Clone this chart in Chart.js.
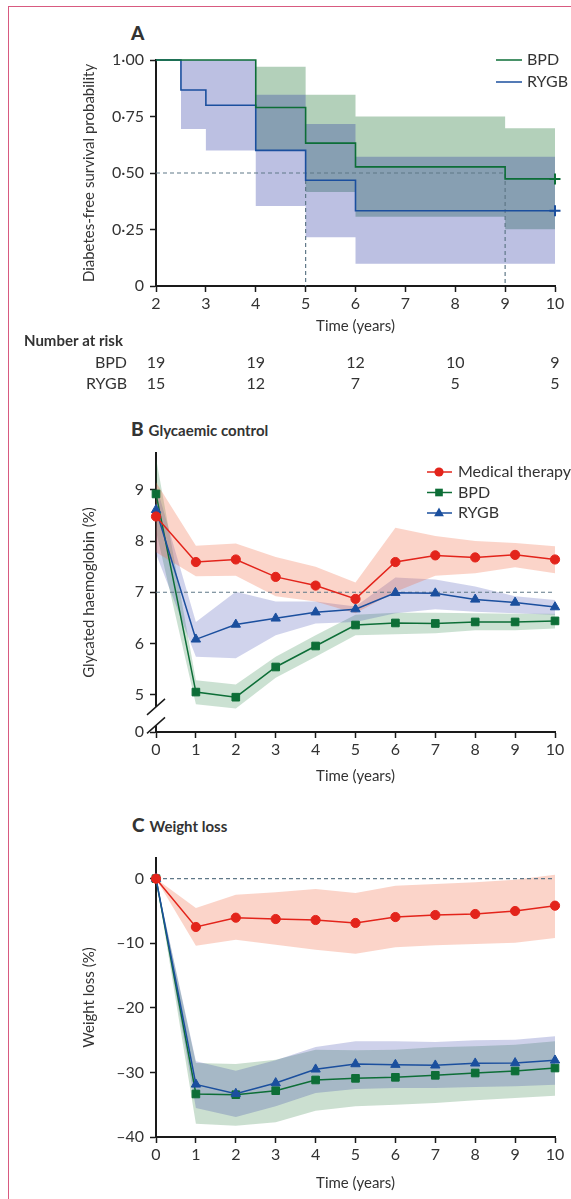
<!DOCTYPE html>
<html>
<head>
<meta charset="utf-8">
<script src="https://cdn.jsdelivr.net/npm/chart.js@4.4.0/dist/chart.umd.min.js"></script>
<style>
  html, body { margin: 0; padding: 0; background: #fff; }
  body { position: relative; width: 571px; height: 1199px; overflow: hidden; font-family: Lato, sans-serif; color: #333; }
  .frame { position: absolute; left: 8px; top: 6px; width: 600px; height: 1300px; border-left: 1.5px solid #d85a80; border-top: 1.5px solid #d85a80; z-index: 2; }
  canvas { position: absolute; left: 0; }
  .ptitle { position: absolute; height: 24px; line-height: 24px; white-space: nowrap; font-weight: bold; color: #333; }
  .ptitle b { font-size: 19px; }
  .ptitle span { font-size: 15px; margin-left: 5px; }
</style>
</head>
<body>
<div class="frame"></div>
<div class="ptitle" style="left:131px; top:21px;"><b>A</b></div>
<div class="ptitle" style="left:131px; top:417px;"><b>B</b><span>Glycaemic control</span></div>
<div class="ptitle" style="left:132px; top:813px;"><b>C</b><span>Weight loss</span></div>
<canvas id="chartA" width="571" height="400" style="top:0"></canvas>
<canvas id="chartB" width="571" height="400" style="top:400px"></canvas>
<canvas id="chartC" width="571" height="399" style="top:800px"></canvas>
<script>
// ---- A: diabetes-free survival (Kaplan-Meier) ----
const kmTicksX = [2, 3, 4, 5, 6, 7, 8, 9, 10];
const kmTicksY = [0, 0.25, 0.5, 0.75, 1];
const kmTickLabelsY = ['0', '0·25', '0·50', '0·75', '1·00'];
const kmGroups = ['BPD', 'RYGB'];

const bpdKmTime = [2, 4, 5, 6, 9, 10];
const bpdKmSurv = [1, 0.79, 0.632, 0.527, 0.474, 0.474];
const bpdCiTime = [4, 5, 6, 9, 10];
const bpdCiUpper = [0.97, 0.846, 0.75, 0.698, 0.698];
const bpdCiLower = [0.602, 0.416, 0.306, 0.251, 0.251];

const rygbKmTime = [2, 2.5, 3, 4, 5, 6, 10];
const rygbKmSurv = [1, 0.867, 0.8, 0.6, 0.468, 0.333, 0.333];
const rygbCiTime = [2.5, 3, 4, 5, 6, 10];
const rygbCiUpper = [1, 1, 0.846, 0.717, 0.572, 0.572];
const rygbCiLower = [0.695, 0.6, 0.354, 0.216, 0.098, 0.098];

const kmMedian = 0.5;
const kmMedianTimes = [5, 9];

const riskTimes = [2, 4, 6, 8, 10];
const riskBpd = [19, 19, 12, 10, 9];
const riskRygb = [15, 12, 7, 5, 5];

// ---- B: glycated haemoglobin (%) ----
const years = [0, 1, 2, 3, 4, 5, 6, 7, 8, 9, 10];
const groupsB = ['Medical therapy', 'BPD', 'RYGB'];
const hbTicks = [0, 5, 6, 7, 8, 9];
const hbAxisFloor = 4.27;   // where the broken axis puts "0"
const hbAxisTop = 9.72;
const hbTarget = 7;

const hbMt = [8.48, 7.59, 7.64, 7.30, 7.13, 6.87, 7.59, 7.72, 7.68, 7.73, 7.64];
const hbMtUpper = [9.15, 7.91, 7.95, 7.69, 7.50, 7.19, 8.26, 8.10, 8.00, 7.96, 7.90];
const hbMtLower = [7.78, 7.31, 7.32, 6.92, 6.82, 6.59, 7.01, 7.32, 7.37, 7.49, 7.37];
const hbBpd = [8.92, 5.05, 4.95, 5.54, 5.95, 6.36, 6.40, 6.39, 6.42, 6.42, 6.44];
const hbBpdUpper = [9.62, 5.28, 5.20, 5.74, 6.16, 6.56, 6.60, 6.60, 6.59, 6.58, 6.58];
const hbBpdLower = [8.20, 4.81, 4.73, 5.33, 5.74, 6.16, 6.18, 6.20, 6.26, 6.26, 6.29];
const hbRygb = [8.61, 6.08, 6.37, 6.49, 6.61, 6.67, 6.99, 6.98, 6.86, 6.80, 6.71];
const hbRygbUpper = [9.10, 6.42, 7.01, 6.82, 6.82, 6.72, 7.29, 7.25, 7.11, 6.92, 6.85];
const hbRygbLower = [7.75, 5.74, 5.71, 6.16, 6.39, 6.42, 6.59, 6.67, 6.62, 6.59, 6.56];

// ---- C: weight loss (%) ----
const wlTicks = [-40, -30, -20, -10, 0];
const wlAxisTop = 3.2;
const wlBaseline = 0;

const wlMt = [0, -7.48, -6.04, -6.25, -6.40, -6.86, -5.94, -5.63, -5.47, -5.01, -4.18];
const wlMtUpper = [0, -4.54, -2.48, -2.12, -1.60, -2.22, -1.08, -0.83, -0.57, -0.15, 0.62];
const wlMtLower = [0, -10.37, -9.45, -10.22, -10.99, -11.61, -10.63, -10.32, -10.12, -9.91, -9.19];
const wlBpd = [0, -33.34, -33.45, -32.83, -31.17, -30.92, -30.76, -30.45, -30.09, -29.78, -29.32];
const wlBpdUpper = [0, -28.54, -28.70, -28.03, -26.48, -26.58, -26.48, -26.12, -25.96, -25.70, -25.19];
const wlBpdLower = [0, -37.94, -38.25, -37.73, -35.92, -35.25, -34.99, -34.74, -34.32, -33.96, -33.60];
const wlRygb = [0, -31.85, -33.29, -31.64, -29.52, -28.70, -28.80, -28.90, -28.59, -28.54, -28.13];
const wlRygbUpper = [0, -28.28, -29.73, -28.13, -26.06, -25.19, -25.19, -25.29, -25.03, -24.93, -24.41];
const wlRygbLower = [0, -35.51, -36.90, -35.25, -33.19, -32.57, -32.41, -32.41, -32.26, -32.15, -31.90];

// colours
const RED = '#e3241b';
const GREEN = '#0d6e37';
const BLUE = '#1b4f9e';
const DASH = '#5f7888';
const TEXT = '#333';
const AXIS = '#1a1a1a';

Chart.defaults.font.family = 'Lato, sans-serif';
Chart.defaults.color = TEXT;

function pts(xs, ys) {
  return xs.map((x, i) => ({x: x, y: ys[i]}));
}

function band(xs, upper, lower, color, stepped) {
  return [
    {data: pts(xs, upper), fill: '+1', backgroundColor: color, borderWidth: 0, pointRadius: 0, stepped: !!stepped, order: 2},
    {data: pts(xs, lower), fill: false, borderWidth: 0, pointRadius: 0, stepped: !!stepped, order: 2}
  ];
}

function markerLine(xs, ys, color, style, r) {
  return {
    data: pts(xs, ys), borderColor: color, backgroundColor: color, borderWidth: 1.5,
    pointStyle: style, pointRadius: r, pointBackgroundColor: color, pointBorderColor: color,
    pointBorderWidth: 1, fill: false, order: 0, clip: false
  };
}

function refLine(points) {
  return {data: points, borderColor: DASH, borderWidth: 1.2, borderDash: [4, 3], pointRadius: 0, fill: false, order: 1};
}

function xAxis(min, max, ticks, height, titlePad) {
  return {
    type: 'linear', min: min, max: max,
    afterBuildTicks: s => { s.ticks = ticks.map(v => ({value: v})); },
    afterFit: s => { s.height = height; },
    grid: {display: true, drawOnChartArea: false, drawTicks: true, tickLength: 6, tickColor: AXIS, tickWidth: 1.5},
    border: {display: true, color: AXIS, width: 2},
    ticks: {padding: 2, font: {size: 16}, color: TEXT, maxRotation: 0, autoSkip: false},
    title: {display: true, text: 'Time (years)', font: {size: 15}, color: TEXT, padding: {top: 0, bottom: titlePad}}
  };
}

function yAxis(min, max, ticks, labels, title) {
  return {
    min: min, max: max,
    afterBuildTicks: s => { s.ticks = ticks.map(v => ({value: v})); },
    afterFit: s => { s.width = 156; },
    grid: {display: true, drawOnChartArea: false, drawTicks: true, tickLength: 6, tickColor: AXIS, tickWidth: 1.5},
    border: {display: true, color: AXIS, width: 2},
    ticks: {padding: 6, font: {size: 16}, color: TEXT, callback: (v, i) => labels[i]},
    title: {display: true, text: title, font: {size: 15}, color: TEXT, padding: {top: 80, bottom: 0}}
  };
}

function drawMarker(ctx, style, x, y, r, color) {
  ctx.fillStyle = color;
  ctx.beginPath();
  if (style === 'circle') {
    ctx.arc(x, y, r, 0, Math.PI * 2);
  } else if (style === 'rect') {
    const s = r * Math.SQRT1_2;
    ctx.rect(x - s, y - s, 2 * s, 2 * s);
  } else {
    ctx.moveTo(x, y - r);
    ctx.lineTo(x + r * 0.9, y + r * 0.6);
    ctx.lineTo(x - r * 0.9, y + r * 0.6);
    ctx.closePath();
  }
  ctx.fill();
}

const baseOptions = (padding, scales, plugins) => ({
  responsive: false,
  animation: false,
  events: [],
  layout: {padding: padding},
  plugins: Object.assign({legend: {display: false}, tooltip: {enabled: false}}, plugins || {}),
  scales: scales
});

// ---- chart A ----
const kmColors = [GREEN, BLUE];
const kmLegendPlugin = {
  id: 'kmLegend',
  afterDraw(chart) {
    const {ctx, chartArea: ca, scales: {x}} = chart;
    ctx.save();
    ctx.font = '16px Lato';
    ctx.textBaseline = 'middle';
    kmGroups.forEach((g, i) => {
      const y = ca.top + i * 22;
      ctx.strokeStyle = kmColors[i];
      ctx.lineWidth = 1.5;
      ctx.beginPath();
      ctx.moveTo(ca.right - 59, y);
      ctx.lineTo(ca.right - 33, y);
      ctx.stroke();
      ctx.fillStyle = TEXT;
      ctx.textAlign = 'left';
      ctx.fillText(g, ca.right - 28, y);
    });
    // number at risk table
    ctx.fillStyle = TEXT;
    ctx.font = 'bold 15px Lato';
    ctx.textAlign = 'left';
    ctx.fillText('Number at risk', 24, 341);
    ctx.font = '16px Lato';
    ctx.textAlign = 'right';
    ctx.fillText(kmGroups[0], 127, 363);
    ctx.fillText(kmGroups[1], 127, 384);
    ctx.textAlign = 'center';
    riskTimes.forEach((t, i) => {
      const px = x.getPixelForValue(t);
      ctx.fillText(String(riskBpd[i]), px, 363);
      ctx.fillText(String(riskRygb[i]), px, 384);
    });
    ctx.restore();
  }
};

function kmLine(xs, ys, color) {
  return {
    data: pts(xs, ys), stepped: true, borderColor: color, borderWidth: 1.6, fill: false,
    pointStyle: 'cross', pointRadius: xs.map((_, i) => i === xs.length - 1 ? 5.5 : 0),
    pointBorderColor: color, pointBorderWidth: 2, order: 0, clip: false
  };
}

const maxMedian = Math.max(...kmMedianTimes);
new Chart(document.getElementById('chartA'), {
  type: 'line',
  data: {
    datasets: [
      kmLine(bpdKmTime, bpdKmSurv, GREEN),
      kmLine(rygbKmTime, rygbKmSurv, BLUE),
      refLine([{x: kmTicksX[0], y: kmMedian}, {x: maxMedian, y: kmMedian}, {x: maxMedian, y: 0}]),
      refLine([{x: kmMedianTimes[0], y: kmMedian}, {x: kmMedianTimes[0], y: 0}]),
      ...band(rygbCiTime, rygbCiUpper, rygbCiLower, 'rgba(32,45,158,0.3)', true),
      ...band(bpdCiTime, bpdCiUpper, bpdCiLower, 'rgba(20,110,40,0.32)', true)
    ]
  },
  options: baseOptions({left: 0, right: 16, top: 60, bottom: 64}, {
    x: xAxis(kmTicksX[0], kmTicksX[kmTicksX.length - 1], kmTicksX, 50, 1),
    y: yAxis(0, 1, kmTicksY, kmTickLabelsY, 'Diabetes-free survival probability')
  }),
  plugins: [kmLegendPlugin]
});

// ---- chart B ----
const groupColors = [RED, GREEN, BLUE];
const groupStyles = ['circle', 'rect', 'triangle'];
const groupRadius = [4.6, 5.4, 5.4];

const legendBPlugin = {
  id: 'legendB',
  afterDraw(chart) {
    const {ctx, chartArea: ca} = chart;
    ctx.save();
    ctx.font = '16px Lato';
    ctx.textBaseline = 'middle';
    groupsB.forEach((g, i) => {
      const y = ca.top + 19 + i * 20.5;
      ctx.strokeStyle = groupColors[i];
      ctx.lineWidth = 1.5;
      ctx.beginPath();
      ctx.moveTo(ca.right - 128, y);
      ctx.lineTo(ca.right - 103, y);
      ctx.stroke();
      drawMarker(ctx, groupStyles[i], ca.right - 116, y, groupRadius[i], groupColors[i]);
      ctx.fillStyle = TEXT;
      ctx.textAlign = 'left';
      ctx.fillText(g, ca.right - 97, y);
    });
    ctx.restore();
  }
};

const axisBreakPlugin = {
  id: 'axisBreak',
  afterDraw(chart) {
    const {ctx, chartArea: ca, scales: {y}} = chart;
    const y1 = y.getPixelForValue(4.76);
    const y2 = y.getPixelForValue(4.40);
    const x = ca.left;
    ctx.save();
    ctx.fillStyle = '#fff';
    ctx.fillRect(x - 2, y1, 4, y2 - y1);
    ctx.strokeStyle = AXIS;
    ctx.lineWidth = 1.5;
    [y1, y2].forEach(cy => {
      ctx.beginPath();
      ctx.moveTo(x - 9, cy + 8);
      ctx.lineTo(x + 9, cy - 8);
      ctx.stroke();
    });
    ctx.restore();
  }
};

new Chart(document.getElementById('chartB'), {
  type: 'line',
  data: {
    datasets: [
      markerLine(years, hbMt, RED, 'circle', 4.6),
      markerLine(years, hbRygb, BLUE, 'triangle', 5.4),
      markerLine(years, hbBpd, GREEN, 'rect', 5.4),
      refLine([{x: years[0], y: hbTarget}, {x: years[years.length - 1], y: hbTarget}]),
      ...band(years, hbMtUpper, hbMtLower, 'rgba(240,100,60,0.28)'),
      ...band(years, hbRygbUpper, hbRygbLower, 'rgba(40,55,170,0.22)'),
      ...band(years, hbBpdUpper, hbBpdLower, 'rgba(20,120,50,0.22)')
    ]
  },
  options: baseOptions({left: 0, right: 16, top: 53, bottom: 13}, {
    x: xAxis(years[0], years[years.length - 1], years, 55, 2),
    y: yAxis(hbAxisFloor, hbAxisTop, hbTicks.map(v => v === 0 ? hbAxisFloor : v), hbTicks.map(String), 'Glycated haemoglobin (%)')
  }),
  plugins: [legendBPlugin, axisBreakPlugin]
});

// ---- chart C ----
new Chart(document.getElementById('chartC'), {
  type: 'line',
  data: {
    datasets: [
      markerLine(years, wlMt, RED, 'circle', 4.6),
      markerLine(years, wlRygb, BLUE, 'triangle', 5.4),
      markerLine(years, wlBpd, GREEN, 'rect', 5.4),
      refLine([{x: years[0], y: wlBaseline}, {x: years[years.length - 1], y: wlBaseline}]),
      ...band(years, wlMtUpper, wlMtLower, 'rgba(240,100,60,0.28)'),
      ...band(years, wlRygbUpper, wlRygbLower, 'rgba(32,45,158,0.22)'),
      ...band(years, wlBpdUpper, wlBpdLower, 'rgba(20,110,40,0.22)')
    ]
  },
  options: baseOptions({left: 0, right: 16, top: 58, bottom: 7}, {
    x: xAxis(years[0], years[years.length - 1], years, 55, 0),
    y: yAxis(wlTicks[0], wlAxisTop, wlTicks, wlTicks.map(v => v < 0 ? '\u2013' + Math.abs(v) : String(v)), 'Weight loss (%)')
  })
});
</script>
</body>
</html>
